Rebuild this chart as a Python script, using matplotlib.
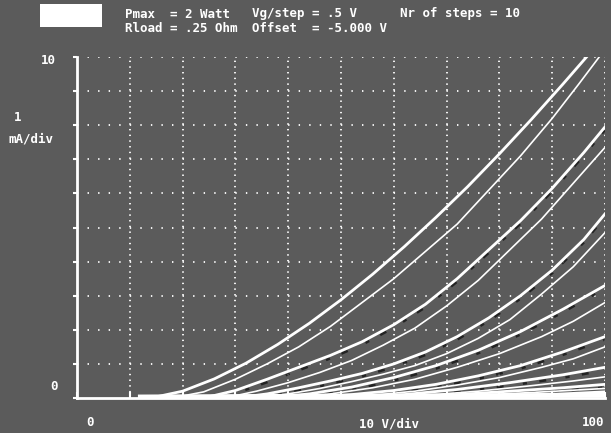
import matplotlib
matplotlib.use('Agg')
import matplotlib.pyplot as plt
from matplotlib.patches import Rectangle
import matplotlib.transforms as mtransforms

# anode voltage (V) / anode current (mA), one pair per grid step
# "a" = bright trace, "b" = fainter trace just to the right of it
v1a = [14, 20, 26, 32, 38, 44, 50, 56, 62, 68, 74, 80, 86, 92, 96.5]
i1a = [0, 0.20, 0.56, 1.02, 1.57, 2.19, 2.88, 3.63, 4.44, 5.30, 6.20, 7.16, 8.16, 9.20, 10.0]
v1b = [18, 24, 30, 36, 42, 48, 54, 60, 66, 72, 78, 84, 90, 95, 98.9]
i1b = [0, 0.18, 0.55, 1.0, 1.5, 2.1, 2.8, 3.5, 4.3, 5.1, 6.1, 7.1, 8.2, 9.2, 10.0]

v2a = [24, 30, 36, 42, 48, 54, 60, 66, 72, 78, 84, 90, 96, 100]
i2a = [0, 0.22, 0.55, 0.9, 1.25, 1.65, 2.15, 2.75, 3.5, 4.35, 5.2, 6.15, 7.2, 7.95]
v2b = [28, 34, 40, 46, 52, 58, 64, 70, 76, 82, 88, 94, 100]
i2b = [0, 0.2, 0.45, 0.75, 1.1, 1.55, 2.05, 2.7, 3.45, 4.35, 5.25, 6.3, 7.35]

v3a = [30, 36, 42, 48, 54, 60, 66, 72, 78, 84, 90, 96, 100]
i3a = [0, 0.12, 0.3, 0.5, 0.72, 1.0, 1.35, 1.8, 2.35, 3.0, 3.75, 4.65, 5.4]
v3b = [34, 40, 46, 52, 58, 64, 70, 76, 82, 88, 94, 100]
i3b = [0, 0.12, 0.28, 0.48, 0.7, 0.95, 1.3, 1.75, 2.3, 3.05, 3.85, 4.85]

v4a = [36, 44, 52, 60, 68, 76, 84, 92, 100]
i4a = [0, 0.12, 0.32, 0.6, 0.95, 1.4, 1.95, 2.6, 3.3]
v4b = [40, 48, 56, 64, 72, 80, 88, 94, 100]
i4b = [0, 0.12, 0.3, 0.55, 0.9, 1.3, 1.8, 2.25, 2.8]

v5a = [44, 52, 60, 68, 76, 84, 92, 100]
i5a = [0, 0.1, 0.22, 0.4, 0.65, 0.95, 1.35, 1.8]
v5b = [48, 56, 64, 72, 80, 88, 94, 100]
i5b = [0, 0.08, 0.2, 0.38, 0.6, 0.9, 1.15, 1.5]

v6a = [52, 62, 72, 82, 92, 100]
i6a = [0, 0.1, 0.25, 0.45, 0.68, 0.9]
v6b = [56, 66, 76, 86, 94, 100]
i6b = [0, 0.08, 0.2, 0.36, 0.5, 0.62]

v7a = [58, 70, 82, 92, 100]
i7a = [0, 0.08, 0.2, 0.3, 0.4]
v7b = [62, 74, 86, 100]
i7b = [0, 0.07, 0.16, 0.28]

v8a = [64, 80, 92, 100]
i8a = [0, 0.06, 0.12, 0.18]
v8b = [68, 84, 100]
i8b = [0, 0.04, 0.1]

vbase = [12, 40, 100]
ibase = [0.03, 0.05, 0.08]

bright = [(v1a, i1a), (v2a, i2a), (v3a, i3a), (v4a, i4a),
          (v5a, i5a), (v6a, i6a), (v7a, i7a), (v8a, i8a)]
faint = [(v1b, i1b), (v2b, i2b), (v3b, i3b), (v4b, i4b),
         (v5b, i5b), (v6b, i6b), (v7b, i7b), (v8b, i8b)]

bg = '#5b5b5b'
mono = 'DejaVu Sans Mono'
plt.rcParams['lines.scale_dashes'] = False

fig = plt.figure(figsize=(6.11, 4.33), dpi=100, facecolor=bg)
ax = fig.add_axes([77/611, 1 - 398/433, 528/611, 341/433])
ax.set_facecolor(bg)
ax.set_xlim(0, 100)
ax.set_ylim(0, 10)

# dotted screen graticule
for k in range(1, 11):
    ax.axhline(k, color='white', lw=1.3, dashes=(1.0, 6.6), zorder=1)
    ax.axvline(k * 10, color='white', lw=1.3, dashes=(1.0, 3.1), zorder=1)

# black specks the photo shows just under the lower traces
down = mtransforms.offset_copy(ax.transData, fig=fig, x=0, y=-3, units='dots')
for v, i in bright[1:7]:
    ax.plot(v, i, color='#111111', lw=1.8, dashes=(3, 9, 5, 14), transform=down,
            zorder=2, alpha=0.75)

for v, i in faint:
    ax.plot(v, i, color='white', lw=1.2, zorder=3)
for v, i in bright:
    ax.plot(v, i, color='white', lw=2.0, zorder=4)
ax.plot(vbase, ibase, color='white', lw=3.5, zorder=4)

for s in ['top', 'right']:
    ax.spines[s].set_visible(False)
for s in ['left', 'bottom']:
    ax.spines[s].set_color('white')
    ax.spines[s].set_linewidth(2)
ax.set_xticks(range(0, 101, 10))
ax.set_yticks(range(0, 11))
ax.tick_params(axis='x', direction='in', length=4, width=1.5, color='white', labelbottom=False)
ax.tick_params(axis='y', direction='out', length=3, width=1.5, color='white', labelleft=False)

# screen text
def px(x, y, s, size=8.5, ha='left'):
    fig.text(x / 611, 1 - y / 433, s, color='white', family=mono, fontsize=size,
             ha=ha, va='center', fontweight='bold')

fig.patches.append(Rectangle((40/611, 1 - 27/433), 62/611, 23/433,
                             transform=fig.transFigure, facecolor='white', edgecolor='none'))
px(125, 14, 'Pmax  = 2 Watt', 9)
px(252, 14, 'Vg/step = .5 V', 9)
px(400, 14, 'Nr of steps = 10', 9)
px(125, 28, 'Rload = .25 Ohm', 9)
px(252, 28, 'Offset  = -5.000 V', 9)

px(56, 61, '10', 9, ha='right')
px(18, 118, '1', 9, ha='center')
px(31, 139, 'mA/div', 9, ha='center')
px(58, 386, '0', 9, ha='right')
px(90, 423, '0', 9, ha='center')
px(389, 424, '10 V/div', 9, ha='center')
px(593, 423, '100', 9, ha='center')

fig.savefig('out.png', dpi=100, facecolor=bg)
